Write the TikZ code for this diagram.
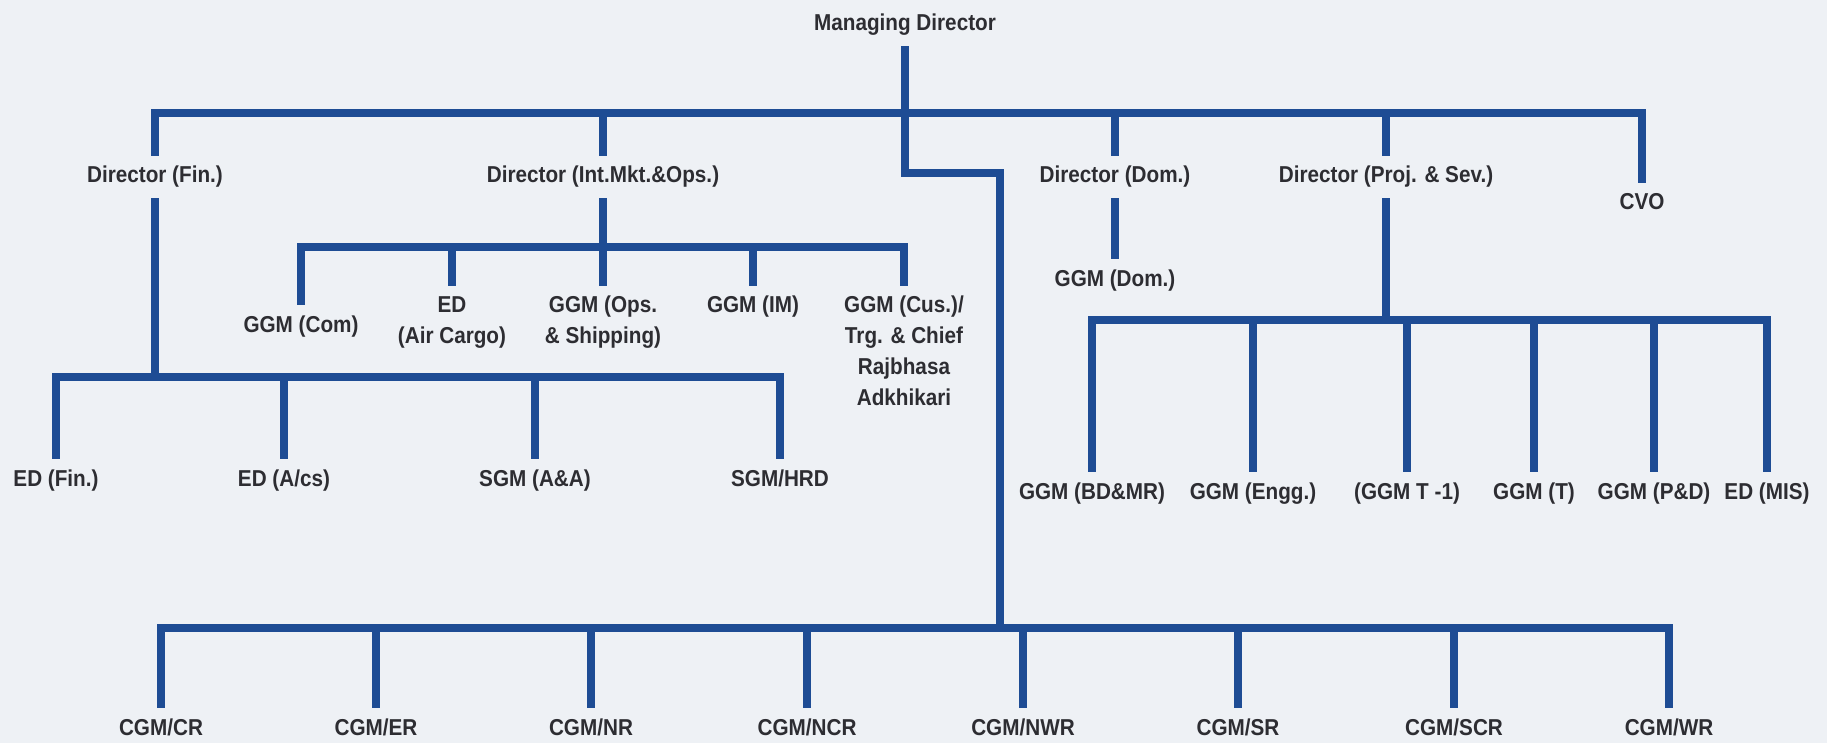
\documentclass[tikz,border=0pt]{standalone}
\usepackage{fontspec}
\setmainfont{Liberation Sans}[FakeStretch=0.9]
\definecolor{orgblue}{RGB}{30,76,148}
\definecolor{orgtext}{RGB}{45,45,50}
\definecolor{paper}{RGB}{238,241,245}
\begin{document}
\begin{tikzpicture}[x=1pt, y=-1pt,
        post/.style={font=\bfseries\fontsize{23}{31}\selectfont, text=orgtext,
            inner xsep=2pt, inner ysep=10pt, text height=17pt, text depth=5pt},
        multipost/.style={font=\bfseries\fontsize{23}{31}\selectfont, text=orgtext,
            inner xsep=2pt, inner ysep=10pt, align=center, anchor=north},
        link/.style={draw=orgblue, line width=8.5pt}]
            \fill[paper] (0,0) rectangle (1827,743);
            \useasboundingbox (0,0) rectangle (1827,743);

            \node[post] (md) at (905,25) {Managing Director};
            \coordinate (topbus) at (905,113);
            \coordinate (mdturn) at (1000,173);
            \coordinate (cgmbus) at (1000,628);

            \node[post] (dfin) at (155,177) {Director (Fin.)};
            \node[post] (dint) at (603,177) {Director (Int.Mkt.\&Ops.)};
            \node[post] (ddom) at (1115,177) {Director (Dom.)};
            \node[post] (dproj) at (1386,177) {Director (Proj. \& Sev.)};
            \node[post] (cvo) at (1642,204) {CVO};

            \draw[link] (md.south) |- (mdturn) -- (cgmbus);
            \draw[link] (topbus) -| (dfin.north);
            \draw[link] (topbus) -| (dint.north);
            \draw[link] (topbus) -| (ddom.north);
            \draw[link] (topbus) -| (dproj.north);
            \draw[link] (topbus) -| (cvo.north);

            \coordinate (finbus) at (155,377);
            \node[post] (edfin) at (56,480) {ED (Fin.)};
            \node[post] (edacs) at (284,480) {ED (A/cs)};
            \node[post] (sgmaa) at (535,480) {SGM (A\&A)};
            \node[post] (sgmhrd) at (780,480) {SGM/HRD};
            \draw[link] (dfin.south) -- (finbus);
            \draw[link] (finbus) -| (edfin.north);
            \draw[link] (finbus) -| (edacs.north);
            \draw[link] (finbus) -| (sgmaa.north);
            \draw[link] (finbus) -| (sgmhrd.north);

            \coordinate (intbus) at (603,247);
            \node[post] (ggmcom) at (301,326) {GGM (Com)};
            \node[multipost] (edair) at (452,286) {ED\\(Air Cargo)};
            \node[multipost] (ggmops) at (603,286) {GGM (Ops.\\\& Shipping)};
            \node[multipost] (ggmim) at (753,286) {GGM (IM)};
            \node[multipost] (ggmcus) at (904,286) {GGM (Cus.)/\\Trg. \& Chief\\Rajbhasa\\Adkhikari};
            \draw[link] (dint.south) -- (intbus);
            \draw[link] (intbus) -| (ggmcom.north);
            \draw[link] (intbus) -| (edair.north);
            \draw[link] (intbus) -| (ggmops.north);
            \draw[link] (intbus) -| (ggmim.north);
            \draw[link] (intbus) -| (ggmcus.north);

            \node[post] (ggmdom) at (1115,280) {GGM (Dom.)};
            \draw[link] (ddom.south) -- (ggmdom.north);

            \coordinate (projbus) at (1386,320);
            \node[post] (ggmbd) at (1092,493) {GGM (BD\&MR)};
            \node[post] (ggmengg) at (1253,493) {GGM (Engg.)};
            \node[post] (ggmtone) at (1407,493) {(GGM T -1)};
            \node[post] (ggmt) at (1534,493) {GGM (T)};
            \node[post] (ggmpd) at (1654,493) {GGM (P\&D)};
            \node[post] (edmis) at (1767,493) {ED (MIS)};
            \draw[link] (dproj.south) -- (projbus);
            \draw[link] (projbus) -| (ggmbd.north);
            \draw[link] (projbus) -| (ggmengg.north);
            \draw[link] (projbus) -| (ggmtone.north);
            \draw[link] (projbus) -| (ggmt.north);
            \draw[link] (projbus) -| (ggmpd.north);
            \draw[link] (projbus) -| (edmis.north);

            \node[post] (cgmcr) at (161,729) {CGM/CR};
            \node[post] (cgmer) at (376,729) {CGM/ER};
            \node[post] (cgmnr) at (591,729) {CGM/NR};
            \node[post] (cgmncr) at (807,729) {CGM/NCR};
            \node[post] (cgmnwr) at (1023,729) {CGM/NWR};
            \node[post] (cgmsr) at (1238,729) {CGM/SR};
            \node[post] (cgmscr) at (1454,729) {CGM/SCR};
            \node[post] (cgmwr) at (1669,729) {CGM/WR};
            \draw[link] (cgmbus) -| (cgmcr.north);
            \draw[link] (cgmbus) -| (cgmer.north);
            \draw[link] (cgmbus) -| (cgmnr.north);
            \draw[link] (cgmbus) -| (cgmncr.north);
            \draw[link] (cgmbus) -| (cgmnwr.north);
            \draw[link] (cgmbus) -| (cgmsr.north);
            \draw[link] (cgmbus) -| (cgmscr.north);
            \draw[link] (cgmbus) -| (cgmwr.north);
        \end{tikzpicture}
\end{document}
